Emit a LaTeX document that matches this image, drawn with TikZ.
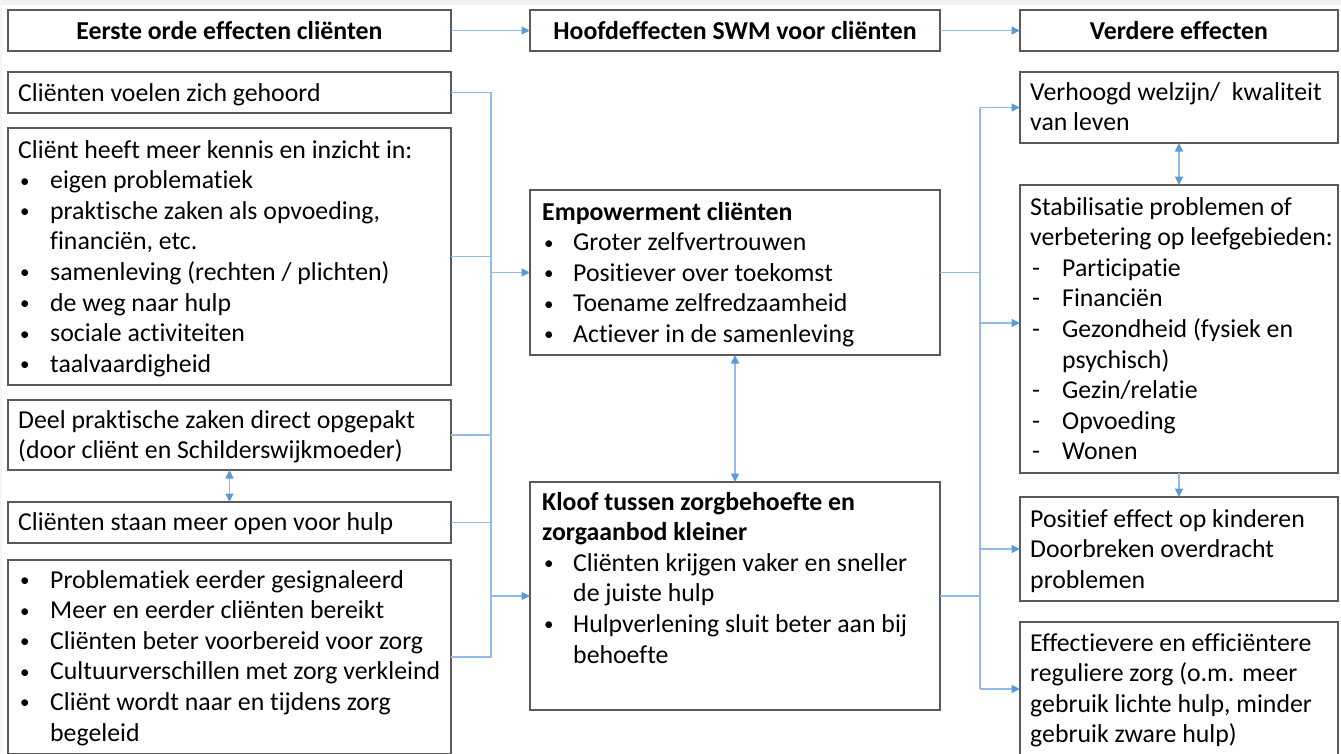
\documentclass[tikz,border=0pt]{standalone}
\usepackage{fontspec}
\setmainfont{Carlito}[Ligatures=NoCommon]
\usetikzlibrary{arrows.meta}
\definecolor{boxgray}{HTML}{5A5A5A}
\definecolor{lineblue}{HTML}{8FBCE8}
\definecolor{tipblue}{HTML}{5B9BD5}
\newcommand{\bul}{\raisebox{1.6pt}{\fontsize{19}{19}\selectfont •}}
\newcommand{\bl}{\makebox[32pt][l]{\hspace{2pt}\bul}}
\newcommand{\mbl}{\makebox[31pt][l]{\hspace{2pt}\bul}}
\newcommand{\ind}{\hspace*{32pt}}
\newcommand{\mind}{\hspace*{31pt}}
\newcommand{\dsh}{\makebox[32pt][l]{\hspace{2pt}-}}
\newcommand{\tb}[2]{\parbox[t]{#1}{\raggedright #2}}
\tikzset{
  boxnode/.style={draw=boxgray, line width=1.8pt, inner sep=0pt, outer sep=0pt, anchor=north west, fill=white},
  headnode/.style={boxnode, font=\fontsize{25.8}{30.6}\selectfont\bfseries},
  txt/.style={inner sep=0pt, anchor=base west, font=\fontsize{25.8}{30.6}\selectfont},
  conn/.style={draw=lineblue, line width=1.4pt},
  arr/.style={conn, -{Triangle[length=8.5pt,width=8pt,color=tipblue,fill=tipblue]}},
  darr/.style={conn, {Triangle[length=8.5pt,width=8pt,color=tipblue,fill=tipblue]}-{Triangle[length=8.5pt,width=8pt,color=tipblue,fill=tipblue]}}
}
\begin{document}
\begin{tikzpicture}[x=1pt,y=-1pt]
\useasboundingbox (0,0) rectangle (1341,753);
\clip (0,0) rectangle (1341,753);
\fill[white] (0,0) rectangle (1341,753);
\fill[black!5] (0,0) rectangle (1341,5);
\fill[black!4] (0,0) rectangle (2,753);

% headers
\node[headnode, minimum width=443pt, minimum height=41pt] (H1) at (8,10) {Eerste orde effecten cliënten};
\node[headnode, minimum width=410pt, minimum height=41pt] (H2) at (530,10) {Hoofdeffecten SWM voor cliënten};
\node[headnode, minimum width=318pt, minimum height=41pt] (H3) at (1020,10) {Verdere effecten};

% left column
\node[boxnode, minimum width=443pt, minimum height=41pt] (A) at (8,72) {};
\node[boxnode, minimum width=443pt, minimum height=257pt] (B) at (8,128) {};
\node[boxnode, minimum width=443pt, minimum height=70pt] (C) at (8,400) {};
\node[boxnode, minimum width=443pt, minimum height=41pt] (D) at (8,502) {};
\node[boxnode, minimum width=443pt, minimum height=194pt] (E) at (8,560) {};

\node[txt] (tA) at (18,101) {Cliënten voelen zich gehoord};
\node[txt] (tB) at (18,158) {\tb{430pt}{Cliënt heeft meer kennis en inzicht in:\\
\bl eigen problematiek\\
\bl praktische zaken als opvoeding,\\
\ind financiën, etc.\\
\bl samenleving (rechten / plichten)\\
\bl de weg naar hulp\\
\bl sociale activiteiten\\
\bl taalvaardigheid}};
\node[txt] (tC) at (18,428) {\tb{430pt}{Deel praktische zaken direct opgepakt\\
(door cliënt en Schilderswijkmoeder)}};
\node[txt] (tD) at (18,530) {Cliënten staan meer open voor hulp};
\node[txt] (tE) at (18,588) {\tb{430pt}{\bl Problematiek eerder gesignaleerd\\
\bl Meer en eerder cliënten bereikt\\
\bl Cliënten beter voorbereid voor zorg\\
\bl Cultuurverschillen met zorg verkleind\\
\bl Cliënt wordt naar en tijdens zorg\\
\ind begeleid}};

% middle column
\node[boxnode, minimum width=410pt, minimum height=165pt] (Emp) at (530,190) {};
\node[boxnode, minimum width=410pt, minimum height=228pt] (Kl) at (530,482) {};
\node[txt] (tEmp) at (542,220) {\tb{395pt}{\textbf{Empowerment cliënten}\\
\mbl Groter zelfvertrouwen\\
\mbl Positiever over toekomst\\
\mbl Toename zelfredzaamheid\\
\mbl Actiever in de samenleving}};
\node[txt] (tKl) at (542,510) {\tb{395pt}{\textbf{Kloof tussen zorgbehoefte en}\\
\textbf{zorgaanbod kleiner}\\
\mbl Cliënten krijgen vaker en sneller\\
\mind de juiste hulp\\
\mbl Hulpverlening sluit beter aan bij\\
\mind behoefte}};

% right column
\node[boxnode, minimum width=318pt, minimum height=71pt] (R1) at (1020,72) {};
\node[boxnode, minimum width=318pt, minimum height=288pt] (R2) at (1020,185) {};
\node[boxnode, minimum width=318pt, minimum height=104pt] (R3) at (1020,497) {};
\node[boxnode, minimum width=318pt, minimum height=134pt] (R4) at (1020,622) {};
\node[txt] (tR1) at (1030,100) {\tb{305pt}{Verhoogd welzijn/\ \ kwaliteit\\
van leven}};
\node[txt] (tR2) at (1030,215) {\tb{305pt}{Stabilisatie problemen of\\
verbetering op leefgebieden:\\
\dsh Participatie\\
\dsh Financiën\\
\dsh Gezondheid (fysiek en\\
\ind psychisch)\\
\dsh Gezin/relatie\\
\dsh Opvoeding\\
\dsh Wonen}};
\node[txt] (tR3) at (1030,527) {\tb{305pt}{Positief effect op kinderen\\
Doorbreken overdracht\\
problemen}};
\node[txt] (tR4) at (1030,651) {\tb{305pt}{Effectievere en efficiëntere\\
reguliere zorg (o.m. meer\\
gebruik lichte hulp, minder\\
gebruik zware hulp)}};

% header arrows
\draw[arr] (H1.east) -- (H2.west);
\draw[arr] (H2.east) -- (H3.west);

% left connectors
\coordinate (lt) at (491,92.5);
\coordinate (lb) at (lt |- E.east);
\draw[conn] (A.east) -- (lt) -- (lb) -- (E.east);
\draw[conn] (B.east) -- (lt |- B.east);
\draw[conn] (C.east) -- (lt |- C.east);
\draw[conn] (D.east) -- (lt |- D.east);
\draw[arr] (lt |- Emp.west) -- (Emp.west);
\draw[arr] (lt |- Kl.west) -- (Kl.west);
\draw[darr] (C.south) -- (D.north);

% middle
\draw[darr] (Emp.south) -- (Kl.north);

% right connectors
\coordinate (rt) at (980,107.5);
\coordinate (rb) at (rt |- R4.west);
\coordinate (r2in) at ([yshift=6pt]R2.west);
\draw[conn] (rt) -- (rb);
\draw[conn] (Emp.east) -- (rt |- Emp.east);
\draw[conn] (Kl.east) -- (rt |- Kl.east);
\draw[arr] (rt) -- (R1.west);
\draw[arr] (rt |- r2in) -- (r2in);
\draw[arr] (rt |- R3.west) -- (R3.west);
\draw[arr] (rb) -- (R4.west);
\draw[darr] (R1.south) -- (R2.north);
\draw[arr] (R2.south) -- (R3.north);
\end{tikzpicture}
\end{document}
